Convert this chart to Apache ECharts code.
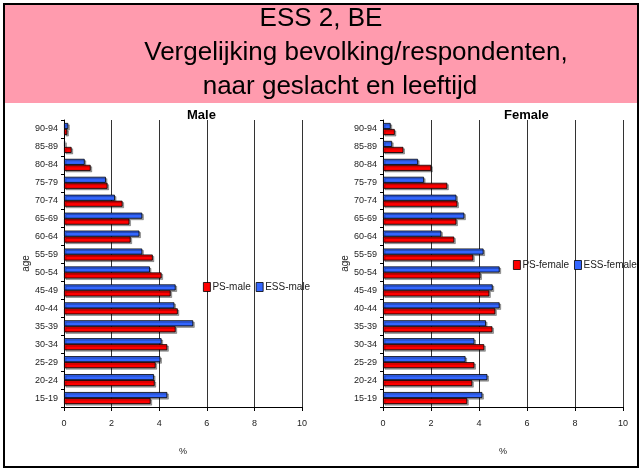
<!DOCTYPE html>
<html>
<head>
<meta charset="utf-8">
<script src="https://cdn.jsdelivr.net/npm/echarts@6/dist/echarts.min.js"></script>
<style>
  html, body { margin: 0; padding: 0; background: #fff; }
  #chart { width: 642px; height: 473px; }
</style>
</head>
<body>
<div id="chart"></div>
<script>
// age groups, from bottom to top
const ageGroups = ['15-19', '20-24', '25-29', '30-34', '35-39', '40-44', '45-49', '50-54',
  '55-59', '60-64', '65-69', '70-74', '75-79', '80-84', '85-89', '90-94']

// male, % (population vs respondents)
const psMale = [3.64, 3.81, 3.85, 4.34, 4.69, 4.78, 4.48, 4.10, 3.73, 2.80, 2.75, 2.46, 1.83, 1.12, 0.32, 0.14]
const essMale = [4.34, 3.78, 4.05, 4.10, 5.43, 4.64, 4.69, 3.61, 3.29, 3.17, 3.29, 2.14, 1.76, 0.87, 0.05, 0.18]

// female, %
const psFemale = [3.51, 3.72, 3.81, 4.22, 4.56, 4.68, 4.43, 4.06, 3.76, 2.97, 3.06, 3.10, 2.68, 2.01, 0.85, 0.49]
const essFemale = [4.14, 4.35, 3.44, 3.81, 4.29, 4.86, 4.57, 4.86, 4.19, 2.43, 3.39, 3.06, 1.71, 1.46, 0.38, 0.32]

const xTicks = { min: 0, max: 10, interval: 2 }

const font = "'Liberation Sans Narrow', 'Liberation Sans', Arial, sans-serif"
const titleFont = "26px 'Liberation Sans', Arial, sans-serif"
const redColor = '#ff0000'
const blueColor = '#3366ff'

const chart = echarts.init(document.getElementById('chart'))

function makeX(gridIndex) {
  return {
    type: 'value',
    gridIndex: gridIndex,
    min: xTicks.min,
    max: xTicks.max,
    interval: xTicks.interval,
    name: '%',
    nameLocation: 'middle',
    nameGap: 40,
    nameTextStyle: { fontFamily: font, fontSize: 9, color: '#222' },
    axisLine: { show: true, lineStyle: { color: '#000', width: 1 } },
    axisTick: { show: true, length: 4, lineStyle: { color: '#000' } },
    axisLabel: { fontFamily: font, fontSize: 9, color: '#222', margin: 12 },
    splitLine: { show: true, lineStyle: { color: '#333', width: 1 } }
  }
}

function makeY(gridIndex, gap) {
  return {
    type: 'category',
    gridIndex: gridIndex,
    data: ageGroups,
    name: 'age',
    nameLocation: 'middle',
    nameRotate: 90,
    nameGap: gap,
    nameTextStyle: { fontFamily: font, fontSize: 10, color: '#222' },
    axisLine: { show: true, lineStyle: { color: '#000', width: 1 } },
    axisTick: { show: true, length: 3, lineStyle: { color: '#000' } },
    axisLabel: { fontFamily: font, fontSize: 9, color: '#222', margin: 6 },
    splitLine: { show: false }
  }
}

function makeBar(name, data, color, idx) {
  return {
    name: name,
    type: 'bar',
    xAxisIndex: idx,
    yAxisIndex: idx,
    data: data,
    barWidth: 6,
    barGap: '0%',
    itemStyle: {
      color: color,
      borderColor: '#000',
      borderWidth: 0.8,
      shadowColor: 'rgba(0,0,0,0.35)',
      shadowOffsetX: 1.5,
      shadowOffsetY: 1.5
    },
    emphasis: { disabled: true }
  }
}

const legendBase = {
  orient: 'horizontal',
  icon: 'rect',
  itemWidth: 7,
  itemHeight: 9,
  itemGap: 5,
  textStyle: { fontFamily: font, fontSize: 10, color: '#222', padding: [0, 0, 0, -3] },
  itemStyle: { borderColor: '#000', borderWidth: 0.8 },
  padding: 0
}

const option = {
  animation: false,
  backgroundColor: '#fff',
  graphic: [
    {
      type: 'rect',
      shape: { x: 4, y: 4, width: 634, height: 99 },
      style: { fill: '#ff9bae', stroke: null },
      z: 0
    },
    {
      type: 'rect',
      shape: { x: 4, y: 4, width: 634, height: 463 },
      style: { fill: null, stroke: '#000', lineWidth: 2 },
      z: 10
    },
    {
      type: 'text',
      x: 321,
      y: 6,
      style: { text: 'ESS 2, BE', font: titleFont, fill: '#000', align: 'center' },
      z: 11
    },
    {
      type: 'text',
      x: 356,
      y: 40,
      style: { text: 'Vergelijking bevolking/respondenten,', font: titleFont, fill: '#000', align: 'center' },
      z: 11
    },
    {
      type: 'text',
      x: 340,
      y: 74,
      style: { text: 'naar geslacht en leeftijd', font: titleFont, fill: '#000', align: 'center' },
      z: 11
    }
  ],
  title: [
    {
      text: 'Male',
      left: 187,
      top: 109,
      padding: 0,
      textStyle: { fontFamily: 'Liberation Sans, Arial, sans-serif', fontSize: 13, fontWeight: 'bold', color: '#000' }
    },
    {
      text: 'Female',
      left: 504,
      top: 109,
      padding: 0,
      textStyle: { fontFamily: 'Liberation Sans, Arial, sans-serif', fontSize: 13, fontWeight: 'bold', color: '#000' }
    }
  ],
  legend: [
    Object.assign({}, legendBase, { data: ['PS-male', 'ESS-male'], left: 203, top: 282 }),
    Object.assign({}, legendBase, { data: ['PS-female', 'ESS-female'], left: 513, top: 260 })
  ],
  grid: [
    { left: 64, width: 238, top: 120, height: 287 },
    { left: 383, width: 240, top: 120, height: 287 }
  ],
  xAxis: [makeX(0), makeX(1)],
  yAxis: [makeY(0, 27), makeY(1, 25)],
  // ESS first so it sits above PS inside each age group
  series: [
    makeBar('ESS-male', essMale, blueColor, 0),
    makeBar('PS-male', psMale, redColor, 0),
    makeBar('ESS-female', essFemale, blueColor, 1),
    makeBar('PS-female', psFemale, redColor, 1)
  ]
}

chart.setOption(option)
</script>
</body>
</html>
